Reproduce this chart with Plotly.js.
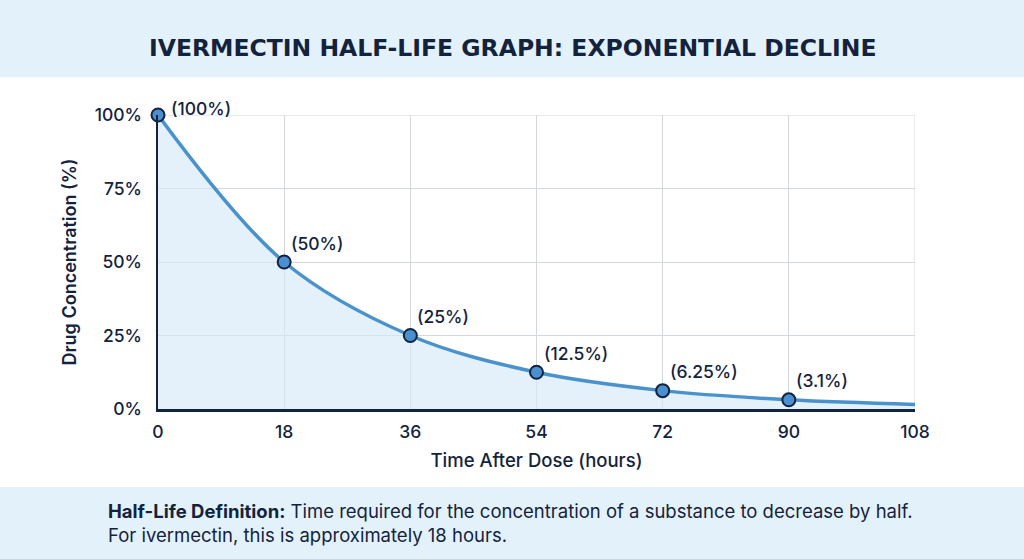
<!DOCTYPE html>
<html>
<head>
<meta charset="utf-8">
<script src="https://cdn.plot.ly/plotly-3.0.1.min.js"></script>
<style>html,body{margin:0;padding:0;background:#fff;}#chart{width:1024px;height:559px;}</style>
</head>
<body>
<div id="chart"></div>
<script>
const hours = [0, 18, 36, 54, 72, 90, 108];
const concentration = [100, 50, 25, 12.5, 6.25, 3.125, 1.5625];
const markerHours = [0, 18, 36, 54, 72, 90];
const markerConc = [100, 50, 25, 12.5, 6.25, 3.125];
const pointLabels = ['(100%)', '(50%)', '(25%)', '(12.5%)', '(6.25%)', '(3.1%)'];
const xTicks = [0, 18, 36, 54, 72, 90, 108];
const yTicks = [0, 25, 50, 75, 100];
const yTickLabels = ['0%', '25%', '50%', '75%', '100%'];

const navy = '#13233d';
const font = 'Inter, "Open Sans", sans-serif';

const traces = [
  {
    x: hours, y: concentration, type: 'scatter', mode: 'lines',
    line: {color: '#4a92cc', width: 3.5, shape: 'spline', smoothing: 1.0},
    fill: 'tozeroy', fillcolor: 'rgba(214,234,249,0.65)',
    hoverinfo: 'skip', showlegend: false
  },
  {
    x: markerHours, y: markerConc, type: 'scatter', mode: 'markers',
    marker: {size: 13, color: '#4a90d0', line: {color: navy, width: 2}},
    showlegend: false, cliponaxis: false
  }
];

const annotations = markerHours.map((h, i) => ({
  x: h, y: markerConc[i], xref: 'x', yref: 'y',
  text: pointLabels[i], showarrow: false,
  xanchor: 'left', yanchor: 'middle',
  xshift: i === 0 ? 11 : 5, yshift: i === 0 ? 7 : 19,
  font: {family: font, size: 17.5, color: navy, weight: 500}
}));

const plotH = 559 - 115 - 150;
const plotW = 1024 - 158 - 109;
function py(pix) { return (559 - 150 - pix) / plotH; }
function px(pix) { return (pix - 158) / plotW; }

annotations.push({
  xref: 'paper', yref: 'paper', x: px(512), y: py(48), yanchor: 'middle', xanchor: 'center',
  text: 'IVERMECTIN HALF-LIFE GRAPH: EXPONENTIAL DECLINE', showarrow: false,
  font: {family: '"DejaVu Sans", sans-serif', size: 23.5, color: navy, weight: 600}
});
annotations.push({
  xref: 'paper', yref: 'paper', x: px(106), y: py(523), xanchor: 'left', yanchor: 'middle', align: 'left',
  text: '<b>Half-Life Definition:</b> Time required for the concentration of a substance to decrease by half.<br>For ivermectin, this is approximately 18 hours.',
  showarrow: false, font: {family: font, size: 18.5, color: navy}
});

const layout = {
  width: 1024, height: 559,
  margin: {l: 158, r: 109, t: 115, b: 150},
  paper_bgcolor: '#ffffff', plot_bgcolor: '#ffffff',
  font: {family: font, color: navy},
  xaxis: {
    range: [0, 108], tickvals: xTicks, ticktext: xTicks.map(String),
    showgrid: true, gridcolor: '#d3d8dd', gridwidth: 1,
    showline: true, linecolor: navy, linewidth: 2.5, mirror: false,
    zeroline: false, ticks: 'outside', ticklen: 5, tickcolor: 'rgba(0,0,0,0)',
    tickfont: {family: font, size: 17.5, color: navy, weight: 500},
    title: {text: 'Time After Dose (hours)', font: {family: font, size: 18.5, color: navy, weight: 500}, standoff: 14}
  },
  yaxis: {
    range: [0, 100], tickvals: yTicks, ticktext: yTickLabels,
    showgrid: true, gridcolor: '#d3d8dd', gridwidth: 1,
    showline: true, linecolor: navy, linewidth: 2.5,
    zeroline: false, ticks: 'outside', ticklen: 10, tickcolor: 'rgba(0,0,0,0)',
    tickfont: {family: font, size: 17.5, color: navy, weight: 500},
    title: {text: 'Drug Concentration (%)', font: {family: font, size: 18, color: navy, weight: 600}, standoff: 14}
  },
  shapes: [
    {type: 'rect', xref: 'paper', yref: 'paper', x0: px(0), x1: px(1024), y0: py(77), y1: py(0), fillcolor: '#e3f1fb', line: {width: 0}, layer: 'below'},
    {type: 'rect', xref: 'paper', yref: 'paper', x0: px(0), x1: px(1024), y0: py(559), y1: py(487), fillcolor: '#e3f1fb', line: {width: 0}, layer: 'below'},
    {type: 'line', xref: 'x', yref: 'paper', x0: 108, x1: 108, y0: 0, y1: 1, line: {color: '#d3d8dd', width: 1}, layer: 'below'},
    {type: 'line', xref: 'paper', yref: 'y', x0: 0, x1: 1, y0: 100, y1: 100, line: {color: '#d3d8dd', width: 1}, layer: 'below'}
  ],
  annotations: annotations
};

Plotly.newPlot('chart', traces, layout, {displayModeBar: false, staticPlot: true});
</script>
</body>
</html>
